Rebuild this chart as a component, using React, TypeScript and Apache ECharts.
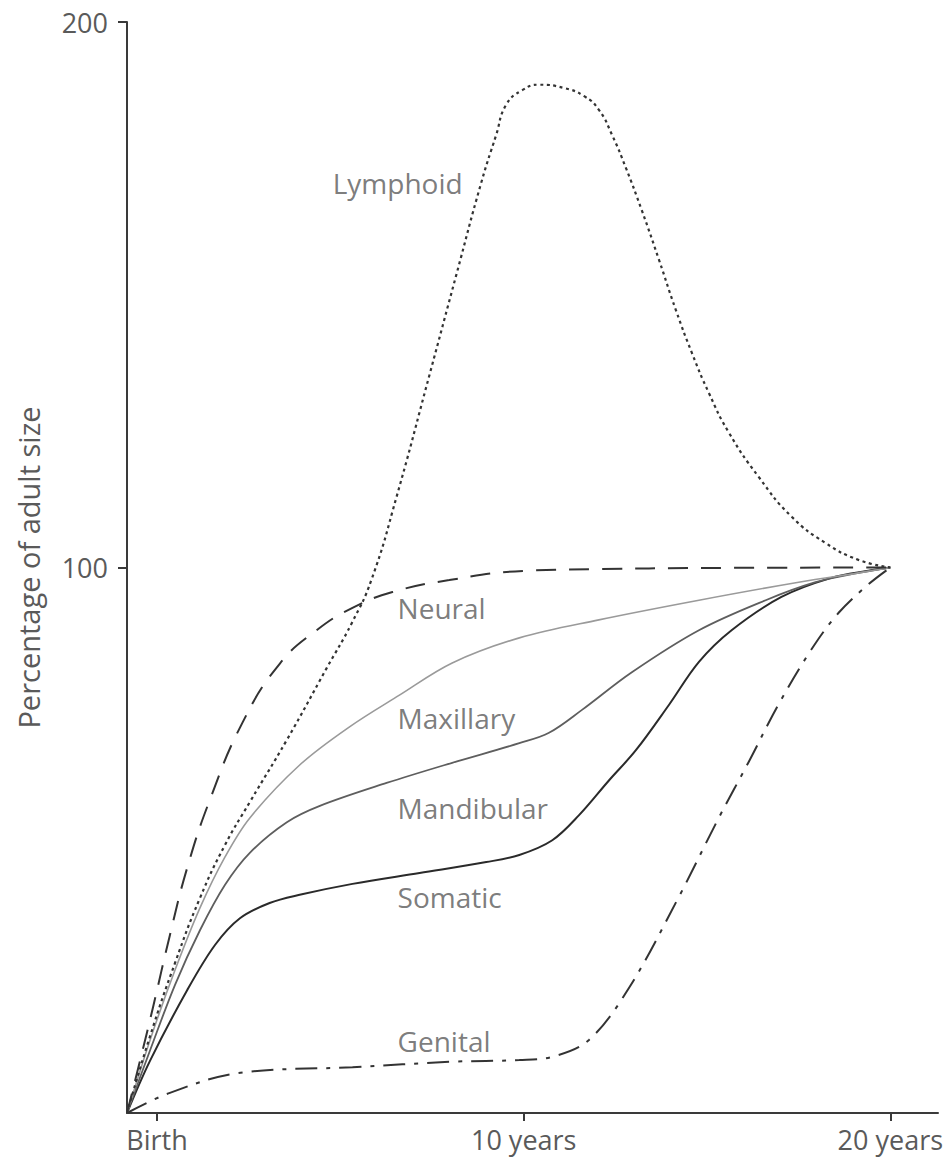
import React, { useEffect, useRef } from "react";
import * as echarts from "echarts";

// Age axis (years) and percentage axis ticks
const AGE_TICKS = [0, 10, 20];
const AGE_TICK_LABELS = ["Birth", "10 years", "20 years"];
const PCT_TICKS = [100, 200];

// Growth curves: [age in years, percentage of adult size]
const neural = [
  [-0.82, 0], [-0.46, 9.7], [-0.11, 19.4], [0.35, 32.6], [0.82, 44.9], [1.44, 57.4],
  [2.34, 71.7], [3.35, 82.4], [4.35, 88.5], [5.33, 92.6], [6.42, 95.5], [7.97, 97.7],
  [10.04, 99.4], [12.05, 99.7], [14.78, 99.9], [20, 100],
];

const lymphoid = [
  [-0.82, 0], [-0.19, 14.1], [0.49, 27.5], [1.17, 39.4], [1.85, 49.1], [2.53, 57],
  [3.54, 68.4], [4.63, 81.6], [5.31, 89.8], [5.85, 97.8], [6.53, 112.9], [7.43, 135.3],
  [8.16, 153.6], [8.84, 170.5], [9.25, 179.3], [9.52, 184.8], [9.96, 187.5], [10.42, 188.5],
  [11.1, 187.9], [11.65, 186.4], [12.05, 183.9], [12.41, 179.3], [12.79, 173.2], [13.22, 165.5],
  [13.69, 156.4], [14.15, 147.2], [14.59, 139.3], [15.05, 132], [15.59, 124.8], [16.41, 116.6],
  [17.31, 109.3], [18.23, 104.5], [19.13, 101.4], [20, 100],
];

const maxillary = [
  [-0.82, 0], [-0.19, 13.4], [0.49, 26.2], [1.17, 37.6], [1.85, 46.9], [2.53, 54.1],
  [3.89, 63.8], [5.25, 70.8], [6.61, 76.6], [8.05, 82.5], [9.88, 87.1], [12.05, 90.4],
  [14.78, 94], [17.5, 97.3], [19.32, 99.2], [20, 100],
];

const mandibular = [
  [-0.82, 0], [-0.19, 11.5], [0.49, 23.5], [1.17, 33.5], [1.85, 41.8], [2.53, 47.7],
  [3.54, 53.3], [4.44, 56.3], [6.26, 60.5], [8.05, 64.2], [9.88, 67.8], [10.69, 69.7],
  [11.59, 73.9], [12.95, 80.8], [14.78, 88.5], [16.6, 94], [17.96, 97.3], [19.13, 99], [20, 100],
];

const somatic = [
  [-0.82, 0], [-0.19, 9.6], [0.82, 22.5], [1.58, 30.8], [2.26, 35.7], [3.07, 38.5],
  [3.89, 40], [5.33, 42], [7.16, 44], [8.98, 46], [9.88, 47.3], [10.78, 50],
  [11.51, 54.6], [12.33, 61], [13.06, 66.5], [13.96, 74.8], [14.78, 82.7], [15.67, 88.5],
  [17.03, 94.6], [18.39, 98.1], [19.4, 99.4], [20, 100],
];

const genital = [
  [-0.82, 0], [0.35, 3.7], [2.18, 7.3], [5.33, 8.4], [8.05, 9.4], [9.88, 9.7],
  [10.78, 10.3], [11.78, 13.4], [12.87, 22.9], [14.23, 39.6], [15.32, 54.1], [16.14, 64.4],
  [16.95, 74.9], [17.85, 85], [18.59, 91.7], [19.4, 96.9], [20, 100],
];

// Curve names with the point their caption starts from
const curveNames = ["Lymphoid", "Neural", "Maxillary", "Mandibular", "Somatic", "Genital"];
const captionAt = [
  [4.79, 170.5], [6.56, 92.6], [6.56, 72.4], [6.56, 55.9], [6.56, 39.6], [6.56, 13.2],
];

const FONT = "'Open Sans', 'Noto Sans', sans-serif";
const TEXT = "#5a5a5a";
const AXIS = "#3a3a3a";

export default function App() {
  const ref = useRef<HTMLDivElement>(null);

  useEffect(() => {
    if (!ref.current) return;
    const chart = echarts.init(ref.current, null, { renderer: "svg" });

    const curve = (
      name: string,
      data: number[][],
      color: string,
      width: number,
      type: any,
      smooth = 0.35
    ) => ({
      name,
      type: "line",
      data,
      smooth,
      showSymbol: false,
      silent: true,
      lineStyle: { color, width, type, cap: "butt" },
    });

    chart.setOption({
      animation: false,
      backgroundColor: "#ffffff",
      grid: { left: 127, right: 10, top: 22, bottom: 53, outerBoundsMode: "none" },
      xAxis: {
        type: "value",
        min: -0.82,
        max: 21.3,
        splitLine: { show: false },
        axisLine: { show: true, lineStyle: { color: AXIS, width: 2 } },
        axisTick: { show: true, customValues: AGE_TICKS, length: 8, lineStyle: { color: AXIS, width: 2 } },
        axisLabel: {
          show: true,
          customValues: AGE_TICKS,
          margin: 13,
          color: TEXT,
          fontFamily: FONT,
          fontSize: 27,
          formatter: (v: number) => AGE_TICK_LABELS[AGE_TICKS.indexOf(v)] ?? "",
        },
      },
      yAxis: {
        type: "value",
        min: 0,
        max: 200,
        name: "Percentage of adult size",
        nameLocation: "middle",
        nameRotate: 90,
        nameGap: 84,
        nameTextStyle: { color: TEXT, fontFamily: FONT, fontSize: 29 },
        splitLine: { show: false },
        axisLine: { show: true, onZero: false, lineStyle: { color: AXIS, width: 2 } },
        axisTick: { show: true, customValues: PCT_TICKS, length: 9, lineStyle: { color: AXIS, width: 2 } },
        axisLabel: {
          show: true,
          customValues: PCT_TICKS,
          margin: 19,
          color: TEXT,
          fontFamily: FONT,
          fontSize: 27,
        },
      },
      series: [
        curve("Genital", genital, "#333333", 2, [22, 9, 4, 9]),
        curve("Somatic", somatic, "#2a2a2a", 2, "solid"),
        curve("Mandibular", mandibular, "#5e5e5e", 1.8, "solid"),
        curve("Maxillary", maxillary, "#9a9a9a", 1.6, "solid"),
        curve("Neural", neural, "#333333", 2, [20, 13], 0.45),
        curve("Lymphoid", lymphoid, "#333333", 2.2, [3, 3.5], 0.5),
        {
          name: "captions",
          type: "scatter",
          silent: true,
          symbolSize: 0,
          data: curveNames.map((n, i) => ({ name: n, value: captionAt[i] })),
          label: {
            show: true,
            position: "right",
            distance: 0,
            formatter: "{b}",
            color: TEXT,
            fontFamily: FONT,
            fontSize: 28,
            verticalAlign: "middle",
          },
        },
      ],
    });

    return () => chart.dispose();
  }, []);

  return (
    <div
      ref={ref}
      style={{ position: "fixed", left: 0, top: 0, width: 948, height: 1166, background: "#fff" }}
    />
  );
}
